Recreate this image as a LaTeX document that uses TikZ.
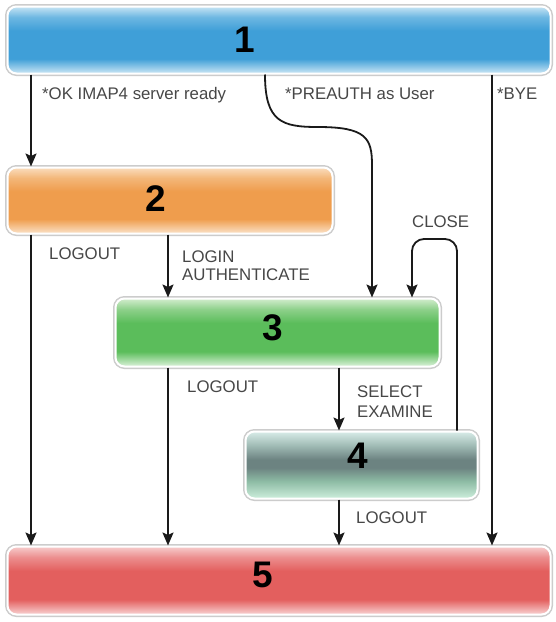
\documentclass[tikz,border=0pt]{standalone}
\usepackage{fontspec}
\setmainfont{Liberation Sans}
\usetikzlibrary{arrows.meta}
\definecolor{lblgray}{HTML}{474747}
\definecolor{linec}{HTML}{1A1A1A}
% blue
\definecolor{blueT}{HTML}{C6E4F4}
\definecolor{blueU}{HTML}{6DB7E2}
\definecolor{blueM}{HTML}{3F9FD8}
\definecolor{blueB}{HTML}{CDE7F5}
% orange
\definecolor{orT}{HTML}{FADDBE}
\definecolor{orU}{HTML}{F3B779}
\definecolor{orM}{HTML}{EF9D4D}
\definecolor{orB}{HTML}{FBE3CA}
% green
\definecolor{grT}{HTML}{D3EDCE}
\definecolor{grU}{HTML}{8DD08A}
\definecolor{grM}{HTML}{5BBD5B}
\definecolor{grB}{HTML}{DDF2DB}
% red
\definecolor{rdT}{HTML}{F7CDCD}
\definecolor{rdU}{HTML}{EC8E8E}
\definecolor{rdM}{HTML}{E35F5E}
\definecolor{rdB}{HTML}{F9D4D4}
% teal grey
\definecolor{tgT}{HTML}{D8ECE8}
\definecolor{tgU}{HTML}{A2BDB7}
\definecolor{tgM}{HTML}{6C8381}
\definecolor{tgL}{HTML}{8DBBA4}
\definecolor{tgB}{HTML}{CDEEDC}
\pgfdeclareverticalshading{glossblue}{100bp}{color(0bp)=(blueB); color(25bp)=(blueB); color(36bp)=(blueM); color(57bp)=(blueM); color(67bp)=(blueU); color(75bp)=(blueT); color(100bp)=(blueT)}
\pgfdeclareverticalshading{glossorange}{100bp}{color(0bp)=(orB); color(25bp)=(orB); color(36bp)=(orM); color(57bp)=(orM); color(67bp)=(orU); color(75bp)=(orT); color(100bp)=(orT)}
\pgfdeclareverticalshading{glossgreen}{100bp}{color(0bp)=(grB); color(25bp)=(grB); color(36bp)=(grM); color(57bp)=(grM); color(67bp)=(grU); color(75bp)=(grT); color(100bp)=(grT)}
\pgfdeclareverticalshading{glossred}{100bp}{color(0bp)=(rdB); color(25bp)=(rdB); color(36bp)=(rdM); color(57bp)=(rdM); color(67bp)=(rdU); color(75bp)=(rdT); color(100bp)=(rdT)}
\pgfdeclareverticalshading{glossteal}{100bp}{color(0bp)=(tgB); color(25bp)=(tgB); color(38bp)=(tgL); color(48bp)=(tgM); color(54bp)=(tgM); color(65bp)=(tgU); color(75bp)=(tgT); color(100bp)=(tgT)}
\tikzset{
  box/.style={rounded corners=9pt, draw=white, line width=2pt, inner sep=0pt,
    preaction={draw=black!20, line width=5pt}},
  num/.style={font=\fontsize{37}{37}\selectfont\bfseries, text=black, inner sep=0pt},
  lbl/.style={font=\fontsize{16.8}{19}\selectfont, text=lblgray, anchor=base west, inner sep=0pt, align=left},
  arr/.style={draw=linec, line width=1.8pt, -{Stealth[length=13pt,width=11pt,inset=2.5pt]}},
}
\begin{document}
\begin{tikzpicture}[x=1pt,y=-1pt]
\useasboundingbox[fill=white] (0,0) rectangle (556,622);
% boxes
\node[box, shading=glossblue,   minimum width=543pt, minimum height=67pt] (b1) at (279,40) {};
\node[box, shading=glossorange, minimum width=325pt, minimum height=66pt] (b2) at (170,200.5) {};
\node[box, shading=glossgreen,  minimum width=324pt, minimum height=68pt] (b3) at (277.5,332.5) {};
\node[box, shading=glossteal,   minimum width=232pt, minimum height=67pt] (b4) at (361.5,465) {};
\node[box, shading=glossred,    minimum width=543pt, minimum height=68pt] (b5) at (279,580.5) {};
% numbers
\node[num] (n1) at (245,40) {1};
\node[num] (n2) at (156,198.5) {2};
\node[num] (n3) at (273,327.5) {3};
\node[num] (n4) at (358,455.5) {4};
\node[num] (n5) at (263,575) {5};
% x positions
\coordinate (xa) at (31,0);
\coordinate (xb) at (168,0);
\coordinate (xc) at (339,0);
\coordinate (xd) at (492,0);
\coordinate (xe) at (265,0);
\coordinate (pm) at (318,127);
\coordinate (pa) at (372,165);
\coordinate (cla) at (457,239);
\coordinate (clb) at (412,239);
% connectors
\draw[arr] (xa |- b1.south) -- (xa |- b2.north);
\draw[arr] (xe |- b1.south) .. controls (265,122) and (282,127) .. (pm)
  .. controls (366,127) and (372,138) .. (pa) -- (pa |- b3.north);
\draw[arr] (xd |- b1.south) -- (xd |- b5.north);
\draw[arr] (xa |- b2.south) -- (xa |- b5.north);
\draw[arr] (xb |- b2.south) -- (xb |- b3.north);
\draw[arr] (xb |- b3.south) -- (xb |- b5.north);
\draw[arr] (xc |- b3.south) -- (xc |- b4.north);
\draw[arr, rounded corners=12pt] (cla |- b4.north) -- (cla) -- (clb) -- (clb |- b3.north);
\draw[arr] (xc |- b4.south) -- (xc |- b5.north);
% labels
\node[lbl] (l1) at (42,99) {*OK IMAP4 server ready};
\node[lbl] (l2) at (285,99) {*PREAUTH as User};
\node[lbl] (l3) at (497,99) {*BYE};
\node[lbl] (l4) at (49,259) {LOGOUT};
\node[lbl, font=\fontsize{16.8}{18}\selectfont] (l5) at (182,280) {LOGIN\\AUTHENTICATE};
\node[lbl, font=\fontsize{16.8}{20}\selectfont] (l7) at (357,417) {SELECT\\EXAMINE};
\node[lbl] (l6) at (187,392) {LOGOUT};
\node[lbl] (l8) at (412,227) {CLOSE};
\node[lbl] (l9) at (356,523) {LOGOUT};
\end{tikzpicture}
\end{document}
